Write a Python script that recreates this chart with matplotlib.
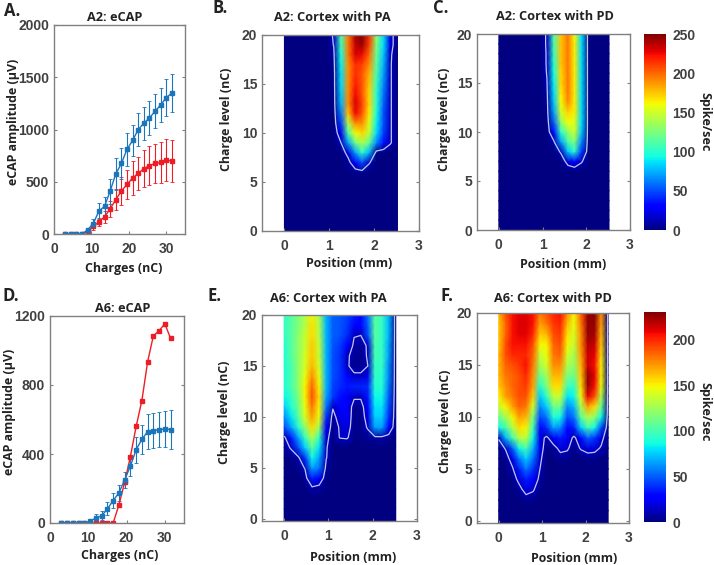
#!/usr/bin/env python3
"""eCAP growth curves and cortical spike-rate maps for A2 and A6"""

import numpy as np
import matplotlib
matplotlib.use('Agg')
import matplotlib.pyplot as plt

W, H = 714, 565
TICK_FONT = 'Liberation Sans'
LABEL_FONT = 'Open Sans'
GREY = '#808080'
DARK = '#404040'
BLUE = '#1b75bb'
RED = '#ee1c25'
LINE = '#c4c4f4'

charges = [3, 4.5, 6, 7.5, 9, 10.5, 12, 13.5, 15, 16.5, 18, 19.5, 21, 22.5, 24, 25.5, 27, 28.5, 30, 31.5]

a2_blue = [0, 0, 0, 0, 40, 100, 220, 265, 410, 575, 675, 810, 895, 1000, 1060, 1110, 1175, 1235, 1305, 1350]
a2_blue_err = [0, 0, 0, 0, 15, 40, 75, 90, 120, 150, 150, 155, 145, 160, 160, 160, 165, 165, 175, 180]
a2_red = [0, 0, 0, 0, 25, 75, 115, 165, 240, 330, 410, 475, 535, 580, 625, 655, 675, 685, 710, 695]
a2_red_err = [0, 0, 0, 0, 15, 35, 40, 55, 80, 100, 135, 140, 165, 160, 175, 185, 190, 195, 200, 200]

a6_blue = [0, 0, 0, 0, 0, 10, 30, 42, 82, 130, 175, 250, 330, 425, 485, 530, 535, 542, 545, 542]
a6_blue_err = [0, 0, 0, 0, 0, 8, 20, 27, 37, 42, 45, 47, 55, 75, 85, 100, 100, 103, 105, 113]
a6_red = [0, 0, 0, 0, 0, 0, 0, 0, 0, 0, 105, 235, 385, 560, 710, 935, 1085, 1115, 1155, 1070]

positions = [0, 0.16, 0.32, 0.47, 0.63, 0.79, 0.95, 1.10, 1.26, 1.42, 1.58, 1.73, 1.89, 2.05, 2.21, 2.36, 2.52]
levels_top = [0, 1, 2, 3, 4, 5, 6, 7, 8, 9, 10, 11, 12, 13, 14, 15, 16, 17, 18, 19, 20]
levels_bottom = [-0.2, 1, 2, 3, 4, 5, 6, 7, 8, 9, 10, 11, 12, 13, 14, 15, 16, 17, 18, 19, 20]

# rows run from 20 nC down to 0 nC
a2_pa = [
    [0, 0, 0, 0, 0, 0, 0, 15, 110, 195, 240, 248, 215, 130, 85, 20, 0],
    [0, 0, 0, 0, 0, 0, 0, 13, 105, 195, 235, 245, 210, 125, 85, 20, 0],
    [0, 0, 0, 0, 0, 0, 0, 8, 95, 195, 230, 225, 200, 120, 80, 15, 0],
    [0, 0, 0, 0, 0, 0, 0, 5, 90, 190, 215, 210, 190, 115, 75, 14, 0],
    [0, 0, 0, 0, 0, 0, 0, 3, 85, 190, 215, 205, 180, 110, 70, 14, 0],
    [0, 0, 0, 0, 0, 0, 0, 3, 85, 190, 220, 205, 175, 105, 65, 14, 0],
    [0, 0, 0, 0, 0, 0, 0, 2, 80, 190, 225, 205, 170, 100, 60, 14, 0],
    [0, 0, 0, 0, 0, 0, 0, 2, 75, 190, 230, 210, 170, 100, 55, 14, 0],
    [0, 0, 0, 0, 0, 0, 0, 1, 60, 175, 225, 205, 165, 95, 50, 14, 0],
    [0, 0, 0, 0, 0, 0, 0, 0, 45, 140, 190, 190, 155, 90, 50, 14, 0],
    [0, 0, 0, 0, 0, 0, 0, 0, 25, 110, 160, 170, 145, 85, 45, 14, 0],
    [0, 0, 0, 0, 0, 0, 0, 0, 12, 70, 120, 140, 115, 65, 35, 14, 0],
    [0, 0, 0, 0, 0, 0, 0, 0, 0, 20, 70, 100, 75, 2, 1, 0, 0],
    [0, 0, 0, 0, 0, 0, 0, 0, 0, 5, 30, 50, 14, 0, 0, 0, 0],
    [0, 0, 0, 0, 0, 0, 0, 0, 0, 0, 3, 4, 0, 0, 0, 0, 0],
    [0, 0, 0, 0, 0, 0, 0, 0, 0, 0, 0, 0, 0, 0, 0, 0, 0],
    [0, 0, 0, 0, 0, 0, 0, 0, 0, 0, 0, 0, 0, 0, 0, 0, 0],
    [0, 0, 0, 0, 0, 0, 0, 0, 0, 0, 0, 0, 0, 0, 0, 0, 0],
    [0, 0, 0, 0, 0, 0, 0, 0, 0, 0, 0, 0, 0, 0, 0, 0, 0],
    [0, 0, 0, 0, 0, 0, 0, 0, 0, 0, 0, 0, 0, 0, 0, 0, 0],
    [0, 0, 0, 0, 0, 0, 0, 0, 0, 0, 0, 0, 0, 0, 0, 0, 0],
]

a2_pd = [
    [0, 0, 0, 0, 0, 0, 0, 15, 110, 175, 195, 160, 85, 0, 0, 0, 0],
    [0, 0, 0, 0, 0, 0, 0, 15, 110, 175, 195, 165, 85, 0, 0, 0, 0],
    [0, 0, 0, 0, 0, 0, 0, 14, 105, 175, 195, 165, 85, 0, 0, 0, 0],
    [0, 0, 0, 0, 0, 0, 0, 14, 100, 175, 195, 165, 85, 0, 0, 0, 0],
    [0, 0, 0, 0, 0, 0, 0, 13, 95, 170, 195, 165, 85, 0, 0, 0, 0],
    [0, 0, 0, 0, 0, 0, 0, 11, 90, 170, 195, 165, 85, 0, 0, 0, 0],
    [0, 0, 0, 0, 0, 0, 0, 8, 85, 165, 195, 165, 85, 0, 0, 0, 0],
    [0, 0, 0, 0, 0, 0, 0, 6, 80, 160, 190, 165, 85, 0, 0, 0, 0],
    [0, 0, 0, 0, 0, 0, 0, 4, 70, 150, 170, 165, 85, 0, 0, 0, 0],
    [0, 0, 0, 0, 0, 0, 0, 1, 55, 130, 160, 155, 85, 0, 0, 0, 0],
    [0, 0, 0, 0, 0, 0, 0, 0, 35, 100, 130, 150, 80, 0, 0, 0, 0],
    [0, 0, 0, 0, 0, 0, 0, 0, 10, 70, 110, 125, 65, 0, 0, 0, 0],
    [0, 0, 0, 0, 0, 0, 0, 0, 0, 15, 80, 100, 45, 0, 0, 0, 0],
    [0, 0, 0, 0, 0, 0, 0, 0, 0, 0, 20, 30, 14, 0, 0, 0, 0],
    [0, 0, 0, 0, 0, 0, 0, 0, 0, 0, 0, 0, 0, 0, 0, 0, 0],
    [0, 0, 0, 0, 0, 0, 0, 0, 0, 0, 0, 0, 0, 0, 0, 0, 0],
    [0, 0, 0, 0, 0, 0, 0, 0, 0, 0, 0, 0, 0, 0, 0, 0, 0],
    [0, 0, 0, 0, 0, 0, 0, 0, 0, 0, 0, 0, 0, 0, 0, 0, 0],
    [0, 0, 0, 0, 0, 0, 0, 0, 0, 0, 0, 0, 0, 0, 0, 0, 0],
    [0, 0, 0, 0, 0, 0, 0, 0, 0, 0, 0, 0, 0, 0, 0, 0, 0],
    [0, 0, 0, 0, 0, 0, 0, 0, 0, 0, 0, 0, 0, 0, 0, 0, 0],
]

a6_pa = [
    [95, 105, 115, 130, 150, 125, 70, 50, 48, 44, 36, 30, 55, 105, 95, 70, 0],
    [95, 105, 115, 130, 155, 130, 70, 50, 48, 42, 30, 26, 50, 105, 95, 70, 0],
    [95, 105, 120, 135, 155, 130, 70, 50, 47, 38, 13, 12, 45, 105, 95, 70, 0],
    [90, 105, 120, 135, 160, 135, 70, 48, 42, 28, 8, 6, 14, 100, 95, 65, 0],
    [90, 105, 120, 140, 160, 135, 70, 46, 40, 15, 6, 4, 14, 100, 95, 65, 0],
    [90, 100, 120, 140, 165, 140, 70, 46, 40, 15, 4, 4, 12, 95, 95, 60, 0],
    [90, 100, 120, 145, 175, 145, 70, 46, 40, 30, 16, 16, 20, 95, 90, 60, 0],
    [90, 100, 120, 150, 185, 150, 70, 44, 38, 34, 36, 36, 38, 90, 90, 55, 0],
    [85, 95, 115, 150, 190, 155, 65, 42, 32, 28, 15, 15, 34, 85, 85, 50, 0],
    [75, 90, 110, 145, 180, 150, 55, 14, 28, 26, 4, 4, 26, 80, 80, 45, 0],
    [60, 80, 105, 140, 170, 145, 40, 5, 22, 24, 3, 3, 20, 75, 75, 40, 0],
    [45, 65, 90, 120, 155, 125, 28, 3, 14, 20, 3, 3, 14, 65, 65, 30, 0],
    [8, 35, 65, 95, 130, 95, 18, 2, 13, 14, 2, 2, 5, 8, 8, 5, 0],
    [5, 14, 45, 75, 105, 80, 14, 0, 0, 0, 0, 0, 0, 0, 0, 0, 0],
    [0, 3, 8, 40, 85, 65, 13, 0, 0, 0, 0, 0, 0, 0, 0, 0, 0],
    [0, 0, 3, 13, 65, 55, 6, 0, 0, 0, 0, 0, 0, 0, 0, 0, 0],
    [0, 0, 0, 4, 35, 25, 3, 0, 0, 0, 0, 0, 0, 0, 0, 0, 0],
    [0, 0, 0, 0, 8, 6, 0, 0, 0, 0, 0, 0, 0, 0, 0, 0, 0],
    [0, 0, 0, 0, 0, 0, 0, 0, 0, 0, 0, 0, 0, 0, 0, 0, 0],
    [0, 0, 0, 0, 0, 0, 0, 0, 0, 0, 0, 0, 0, 0, 0, 0, 0],
    [0, 0, 0, 0, 0, 0, 0, 0, 0, 0, 0, 0, 0, 0, 0, 0, 0],
]

a6_pd = [
    [165, 190, 205, 210, 210, 205, 180, 190, 200, 205, 175, 150, 185, 225, 228, 175, 0],
    [160, 185, 205, 212, 212, 205, 170, 180, 195, 200, 165, 145, 180, 225, 225, 170, 0],
    [160, 185, 205, 210, 210, 200, 160, 165, 190, 195, 155, 140, 175, 225, 222, 165, 0],
    [160, 190, 205, 205, 205, 190, 150, 150, 185, 190, 150, 135, 175, 220, 215, 160, 0],
    [165, 190, 200, 200, 200, 185, 135, 145, 180, 185, 140, 125, 170, 215, 210, 155, 0],
    [165, 185, 190, 195, 205, 180, 125, 140, 175, 175, 130, 120, 165, 215, 205, 150, 0],
    [165, 180, 185, 190, 200, 175, 110, 125, 165, 165, 115, 110, 160, 225, 210, 150, 0],
    [160, 175, 185, 190, 195, 170, 90, 115, 155, 155, 100, 95, 155, 225, 205, 145, 0],
    [150, 170, 180, 190, 190, 160, 75, 95, 135, 135, 80, 85, 145, 210, 190, 130, 0],
    [135, 150, 170, 185, 180, 140, 60, 75, 110, 110, 60, 70, 125, 170, 155, 110, 0],
    [110, 125, 150, 170, 165, 115, 45, 55, 90, 85, 45, 55, 105, 130, 120, 85, 0],
    [85, 100, 130, 155, 150, 100, 30, 38, 65, 60, 30, 35, 75, 100, 85, 45, 0],
    [14, 70, 100, 130, 135, 85, 20, 8, 25, 35, 25, 8, 25, 50, 40, 18, 0],
    [2, 14, 50, 85, 100, 70, 22, 2, 5, 18, 15, 2, 14, 20, 18, 10, 0],
    [0, 3, 22, 55, 75, 55, 16, 0, 0, 4, 3, 0, 0, 3, 3, 0, 0],
    [0, 0, 10, 35, 55, 40, 12, 0, 0, 0, 0, 0, 0, 0, 0, 0, 0],
    [0, 0, 2, 18, 35, 28, 6, 0, 0, 0, 0, 0, 0, 0, 0, 0, 0],
    [0, 0, 0, 5, 20, 14, 2, 0, 0, 0, 0, 0, 0, 0, 0, 0, 0],
    [0, 0, 0, 0, 3, 3, 0, 0, 0, 0, 0, 0, 0, 0, 0, 0, 0],
    [0, 0, 0, 0, 0, 0, 0, 0, 0, 0, 0, 0, 0, 0, 0, 0, 0],
    [0, 0, 0, 0, 0, 0, 0, 0, 0, 0, 0, 0, 0, 0, 0, 0, 0],
]


def px_axes(fig, left, top, right, bottom):
    return fig.add_axes([left / W, 1 - bottom / H, (right - left) / W, (bottom - top) / H])


def style_axes(ax, title, xlabel, ylabel, title_pad, xpad, ypad, title_x, xlabel_x, ylabel_y):
    for spine in ax.spines.values():
        spine.set_color(GREY)
        spine.set_linewidth(1.0)
    ax.tick_params(direction='in', length=2.5, width=0.8, color=GREY, right=True,
                   labelsize=10, labelcolor=DARK)
    ax.tick_params(axis='x', pad=5.5)
    ax.tick_params(axis='y', pad=3.5)
    for lab in ax.get_xticklabels() + ax.get_yticklabels():
        lab.set_fontfamily(TICK_FONT)
        lab.set_fontweight('bold')
    ax.set_xlabel(xlabel, family=LABEL_FONT, weight='bold', fontsize=8.9, color='#222222',
                  labelpad=xpad, x=xlabel_x)
    ax.set_ylabel(ylabel, family=LABEL_FONT, weight='bold', fontsize=8.9, color='#222222',
                  labelpad=ypad, y=ylabel_y)
    ax.set_title(title, family=LABEL_FONT, weight='bold', fontsize=9.2, color='#222222',
                 pad=title_pad, x=title_x)


def draw_curves(ax, blue, blue_err, red, red_err, ylim, yticks):
    if red_err is not None:
        ax.errorbar(charges, red, yerr=red_err, color=RED, lw=1.0, elinewidth=0.8, capsize=1.2,
                    marker='s', ms=3.2, capthick=0.6)
        ax.errorbar(charges, blue, yerr=blue_err, color=BLUE, lw=1.0, elinewidth=0.8, capsize=1.2,
                    marker='s', ms=3.2, capthick=0.6)
    else:
        ax.errorbar(charges, blue, yerr=blue_err, color=BLUE, lw=1.0, elinewidth=0.8, capsize=1.2,
                    marker='s', ms=3.2, capthick=0.6)
        ax.plot(charges, red, color=RED, lw=1.0, marker='s', ms=3.2)
    ax.set_xlim(0, 35)
    ax.set_ylim(*ylim)
    ax.set_xticks([0, 10, 20, 30])
    ax.set_yticks(yticks)


def draw_map(ax, grid, levels, vmax, ylim):
    z = np.array(grid, dtype=float)[::-1]
    mesh = ax.pcolormesh(positions, levels, z, shading='gouraud', cmap='jet', vmin=0, vmax=vmax)
    ax.contour(positions, levels, z, levels=[12], colors=LINE, linewidths=0.9)
    ax.set_xlim(-0.5, 3)
    ax.set_ylim(*ylim)
    ax.set_xticks([0, 1, 2, 3])
    ax.set_yticks([0, 5, 10, 15, 20])
    return mesh


def draw_colorbar(fig, mesh, rect, ticks, label_y):
    cax = px_axes(fig, *rect)
    cb = fig.colorbar(mesh, cax=cax, ticks=ticks)
    cb.outline.set_visible(False)
    cax.tick_params(length=0, labelsize=10, labelcolor=DARK, pad=4.5)
    for lab in cax.get_yticklabels():
        lab.set_fontfamily(TICK_FONT)
        lab.set_fontweight('bold')
    fig.text(705 / W, 1 - label_y / H, 'Spike/sec', rotation=270, ha='center', va='center',
             family=LABEL_FONT, weight='bold', fontsize=9.1, color='#222222')


fig = plt.figure(figsize=(W / 100, H / 100), dpi=100, facecolor='white')

ax_a = px_axes(fig, 54, 25, 185, 234)
draw_curves(ax_a, a2_blue, a2_blue_err, a2_red, a2_red_err, (0, 2000), [0, 500, 1000, 1500, 2000])
style_axes(ax_a, 'A2: eCAP', 'Charges (nC)', 'eCAP amplitude (µV)', 3, 4.6, -1, 0.46, 0.53, 0.535)

ax_d = px_axes(fig, 50, 316, 184, 523)
draw_curves(ax_d, a6_blue, a6_blue_err, a6_red, None, (0, 1200), [0, 400, 800, 1200])
style_axes(ax_d, 'A6: eCAP', 'Charges (nC)', 'eCAP amplitude (µV)', 3, 3, -1, 0.545, 0.52, 0.535)

ax_b = px_axes(fig, 262, 35, 419, 231)
draw_map(ax_b, a2_pa, levels_top, 250, (0, 20))
style_axes(ax_b, 'A2: Cortex with PA', 'Position (mm)', 'Charge level (nC)', 10, 3, 6, 0.45, 0.555, 0.57)

ax_c = px_axes(fig, 477, 34, 630, 230)
mesh_top = draw_map(ax_c, a2_pd, levels_top, 250, (0, 20))
style_axes(ax_c, 'A2: Cortex with PD', 'Position (mm)', 'Charge level (nC)', 10, 4.5, 4, 0.51, 0.56, 0.565)
draw_colorbar(fig, mesh_top, (644, 34, 666, 230), [0, 50, 100, 150, 200, 250], 122)

ax_e = px_axes(fig, 262, 315, 417, 521)
draw_map(ax_e, a6_pa, levels_bottom, 230, (-0.2, 20))
style_axes(ax_e, 'A6: Cortex with PA', 'Position (mm)', 'Charge level (nC)', 9, 6, 8, 0.43, 0.585, 0.53)

ax_f = px_axes(fig, 477, 313, 629, 523)
mesh_bot = draw_map(ax_f, a6_pd, levels_bottom, 230, (-0.2, 20))
style_axes(ax_f, 'A6: Cortex with PD', 'Position (mm)', 'Charge level (nC)', 8, 5, 3.5, 0.5, 0.64, 0.485)
draw_colorbar(fig, mesh_bot, (644, 312, 666, 522), [0, 50, 100, 150, 200], 412)

for letter, x, y in [('A.', 4, 11), ('B.', 212, 8), ('C.', 433, 8), ('D.', 3, 296), ('E.', 207, 296), ('F.', 440, 296)]:
    fig.text(x / W, 1 - y / H, letter, family=LABEL_FONT, weight='bold', fontsize=12, color='#222222',
             ha='left', va='center')

fig.savefig('out.png', dpi=100, facecolor='white')
